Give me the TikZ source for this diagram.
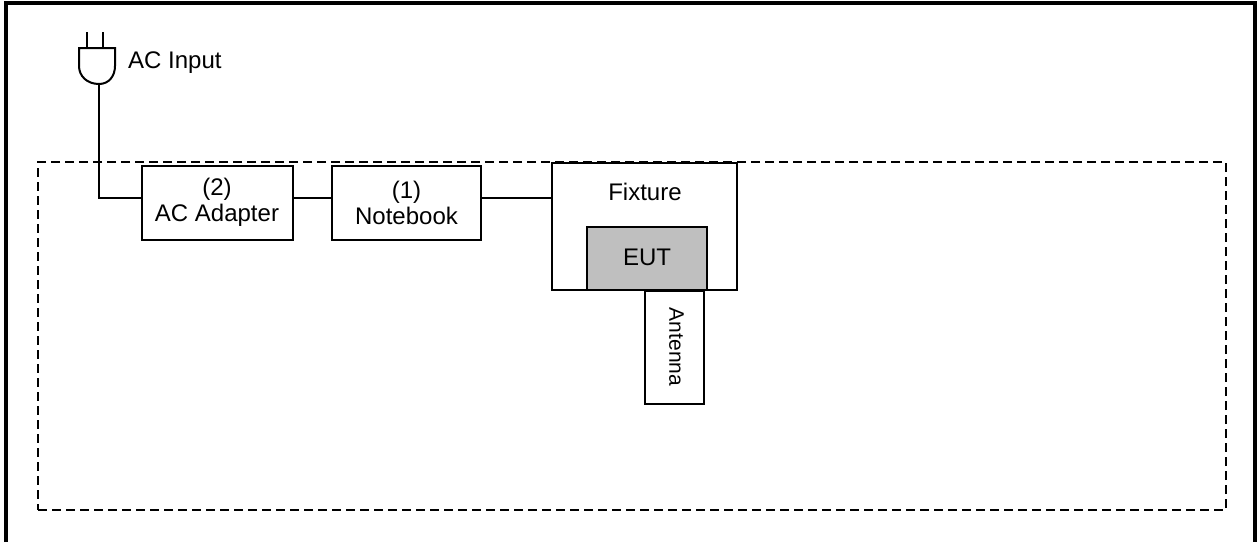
\documentclass[tikz,border=0pt]{standalone}
\usepackage{fontspec}
\setmainfont{Liberation Sans}
\tikzset{cell/.style={rectangle, draw, line width=2pt, align=center, inner sep=0pt,
   font=\fontsize{24}{26}\selectfont}}
\tikzset{txt/.style={inner sep=0pt, align=center, font=\fontsize{24}{26}\selectfont}}
\tikzset{wire/.style={line width=2pt}}
\begin{document}
\begin{tikzpicture}[x=1pt,y=-1pt]

    \useasboundingbox (0,0) rectangle (1259,542);
    \draw[line width=4pt] (5.5,542) -- (5.5,2.5) -- (1254.5,2.5) -- (1254.5,542);
    \node[rectangle, draw, line width=2pt, dash pattern=on 9pt off 5pt, inner sep=0pt,
          minimum width=1188pt, minimum height=348pt] (zone) at (632,336) {};

    \node[cell, minimum width=151pt, minimum height=74pt] (adapter) at (217,202.5) {(2)\\AC Adapter};
    \node[cell, minimum width=149pt, minimum height=74pt] (notebook) at (406.5,202.5) {(1)\\Notebook};
    \node[cell, minimum width=185pt, minimum height=127pt] (fixture) at (644,226.5) {};
    \node[txt] (fixturetxt) at (645,192) {Fixture};
    \node[cell, fill=black!25, minimum width=120pt, minimum height=63pt] (eut) at (647,258) {\raisebox{2pt}{EUT}};
    \node[cell, minimum width=59pt, minimum height=113pt] (antenna) at (674.5,347) {};
    \node[txt, rotate=-90, font=\fontsize{21}{24}\selectfont] (antennatxt) at (676.5,347) {Antenna};

    % plug
    \coordinate (pin1) at (86.7,32);
    \coordinate (pin2) at (103,32);
    \coordinate (tl) at (79,48);
    \coordinate (tr) at (115,48);
    \coordinate (tip) at (99,84);
    \draw[wire] (pin1) -- (pin1 |- tl);
    \draw[wire] (pin2) -- (pin2 |- tl);
    \draw[wire] (tip) .. controls (87,84) and (79,76) .. (79,66) -- (tl) -- (tr) -- (115,66) .. controls (115,76) and (109,84) .. (tip);
    \node[txt, anchor=west] (acin) at (128,63) {AC Input};

    \coordinate (bend) at (99,197.5);
    \draw[wire] (tip) -- (bend) -- (adapter.west |- bend);
    \draw[wire] (adapter.east |- bend) -- (notebook.west |- bend);
    \draw[wire] (notebook.east |- bend) -- (fixture.west |- bend);

  \end{tikzpicture}
\end{document}
